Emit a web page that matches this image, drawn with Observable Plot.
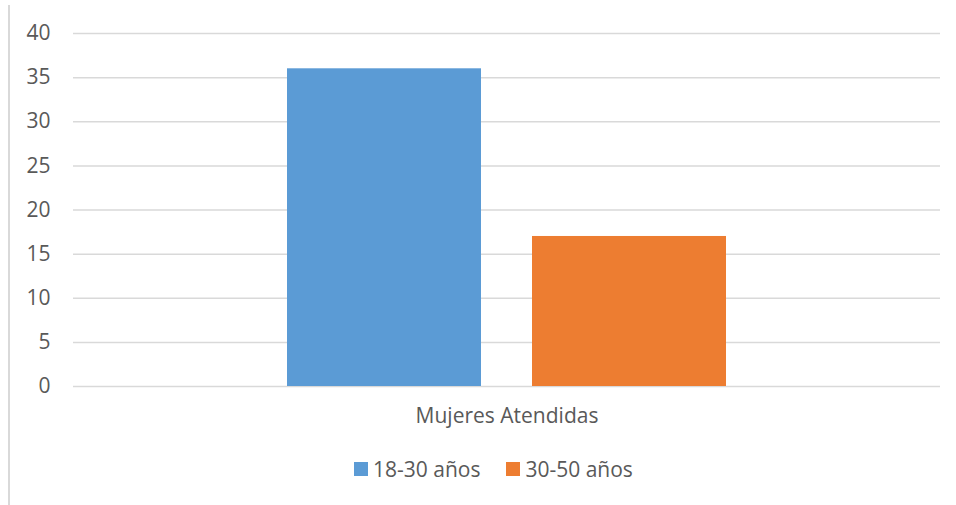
<!DOCTYPE html>
<html>
<head>
<meta charset="utf-8">
<script src="https://cdn.jsdelivr.net/npm/d3@7"></script>
<script src="https://cdn.jsdelivr.net/npm/@observablehq/plot@0.6"></script>
<style>
  html, body { margin: 0; padding: 0; background: #fff; width: 956px; height: 505px; overflow: hidden; }
  #wrap { position: relative; width: 956px; height: 505px; }
  #border { position: absolute; left: 8px; top: 5px; width: 2px; height: 500px; background: #d9d9d9; }
  #chart { position: absolute; left: 0; top: 0; }
  #legend { position: absolute; left: 354px; top: 455px; display: flex; align-items: center;
            font-family: 'Open Sans', sans-serif; font-size: 21px; color: #595959; line-height: 28px; }
  #legend .item { display: flex; align-items: center; margin-right: 26px; }
  #legend .item:last-child { margin-right: 0; }
  #legend .sw { width: 14px; height: 14px; margin-right: 5px; }
</style>
</head>
<body>
<div id="wrap">
  <div id="border"></div>
  <div id="chart"></div>
  <div id="legend"></div>
</div>
<script>
const category = "Mujeres Atendidas";
const series = ["18-30 años", "30-50 años"];
const values = [36, 17];
const colors = ["#5B9BD5", "#ED7D31"];
const yTicks = [0, 5, 10, 15, 20, 25, 30, 35, 40];

const data = series.map((s, i) => ({series: s, value: values[i]}));
const font = "'Open Sans', sans-serif";
const textColor = "#595959";

const plot = Plot.plot({
  width: 956,
  height: 440,
  marginTop: 33,
  marginBottom: 54,
  marginLeft: 73,
  marginRight: 16,
  style: {fontFamily: font, fontSize: "21px", color: textColor, background: "transparent"},
  x: {domain: series, range: [286, 727], paddingInner: 0.207, paddingOuter: 0, axis: null},
  y: {domain: [0, 40], ticks: yTicks, label: null, axis: null},
  color: {domain: series, range: colors},
  marks: [
    Plot.ruleY(yTicks, {stroke: "#d9d9d9", strokeWidth: 1.5}),
    Plot.barY(data, {x: "series", y: "value", fill: "series"}),
    Plot.axisY(yTicks, {tickSize: 0, tickPadding: 23, fontSize: 21, fill: textColor, label: null}),
    Plot.text([category], {frameAnchor: "bottom", dy: 30, lineAnchor: "middle", fontSize: 21, fill: textColor})
  ]
});
document.getElementById("chart").appendChild(plot);

const color = plot.scale("color");
const legend = d3.select("#legend");
const items = legend.selectAll(".item").data(color.domain).join("div").attr("class", "item");
items.append("div").attr("class", "sw").style("background", (d, i) => color.range[i]);
items.append("span").text(d => d);
</script>
</body>
</html>
